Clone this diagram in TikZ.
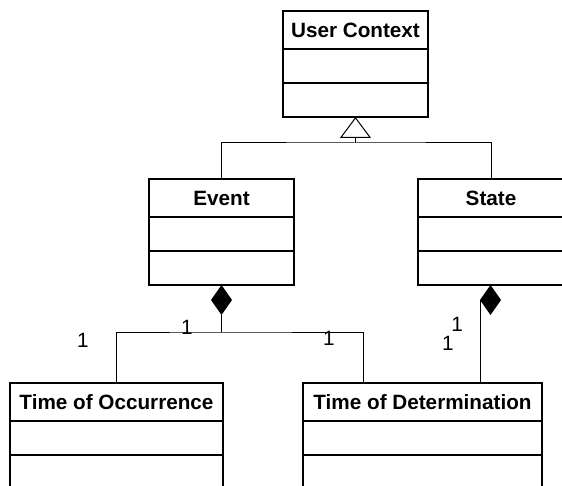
\documentclass[tikz,border=0pt]{standalone}
\usepackage{fontspec}
\setmainfont{Liberation Sans}
\usetikzlibrary{positioning,arrows.meta,shapes.geometric}

\begin{document}
\begin{tikzpicture}[
        x=1pt, y=-1pt,
        % Class name compartment
        classname/.style={
            rectangle, draw, line width=1.8pt,
            inner sep=0pt, outer sep=0pt, minimum height=38pt,
            font=\fontsize{20.7}{24}\selectfont\bfseries
        },
        % Empty attribute / operation compartment
        compartment/.style={
            rectangle, draw, line width=1.8pt,
            inner sep=0pt, outer sep=0pt, minimum height=34pt
        },
        % Composition diamond
        composite/.style={
            diamond, fill=black, inner sep=0pt, outer sep=0pt,
            minimum width=21pt, minimum height=30pt, anchor=north
        },
        % Multiplicity
        mult/.style={inner sep=0pt, font=\fontsize{20.7}{24}\selectfont},
        % Connectors
        link/.style={line width=1pt}
    ]
        \path [use as bounding box, fill=white] (0,0) rectangle (562,486);
        \clip (0,0) rectangle (562,486);

        % User Context
        \node [classname, minimum width=145pt, anchor=north west] (uc) at (283,11) {User Context};
        \node [compartment, minimum width=145pt, below=0pt of uc] (uc-attr) {};
        \node [compartment, minimum width=145pt, below=0pt of uc-attr] (uc-ops) {};

        % Event
        \node [classname, minimum width=145pt, anchor=north west] (ev) at (149,179) {Event};
        \node [compartment, minimum width=145pt, below=0pt of ev] (ev-attr) {};
        \node [compartment, minimum width=145pt, below=0pt of ev-attr] (ev-ops) {};

        % State
        \node [classname, minimum width=146pt, anchor=north west] (st) at (418,179) {State};
        \node [compartment, minimum width=146pt, below=0pt of st] (st-attr) {};
        \node [compartment, minimum width=146pt, below=0pt of st-attr] (st-ops) {};

        % Time of Occurrence
        \node [classname, minimum width=213pt, anchor=north west] (to) at (10,383) {Time of Occurrence};
        \node [compartment, minimum width=213pt, below=0pt of to] (to-attr) {};
        \node [compartment, minimum width=213pt, below=0pt of to-attr] (to-ops) {};

        % Time of Determination
        \node [classname, minimum width=239pt, anchor=north west] (td) at (303,383) {Time of Determination};
        \node [compartment, minimum width=239pt, below=0pt of td] (td-attr) {};
        \node [compartment, minimum width=239pt, below=0pt of td-attr] (td-ops) {};

        % Generalisation
        \coordinate (gen) at (uc-ops.south |- 0,143);
        \draw [link] (ev.north) |- (gen) -| (st.north);
        \draw [link, -{Triangle[open, length=21pt, width=31pt, line width=1pt]}] (gen) -- (uc-ops.south);

        % Composition of Event
        \node [composite] (ev-dia) at (ev-ops.south) {};
        \coordinate (ev-join) at (ev-dia.south |- 0,332);
        \coordinate (td-top) at ([xshift=60pt]td.north west);
        \draw [link] (ev-dia.south) -- (ev-join);
        \draw [link] (to.north) |- (ev-join) -| (td-top);

        % Composition of State
        \node [composite] (st-dia) at ([xshift=-0.5pt]st-ops.south) {};
        \draw [link] (st-dia.west) -- (st-dia.west |- td.north);

        % Multiplicities
        \node [mult] (m-to) at (83,340) {1};
        \node [mult] (m-ev) at (187,327) {1};
        \node [mult] (m-td) at (329,338) {1};
        \node [mult] (m-st) at (457,324) {1};
        \node [mult] (m-st2) at (448,343) {1};

    \end{tikzpicture}
\end{document}
